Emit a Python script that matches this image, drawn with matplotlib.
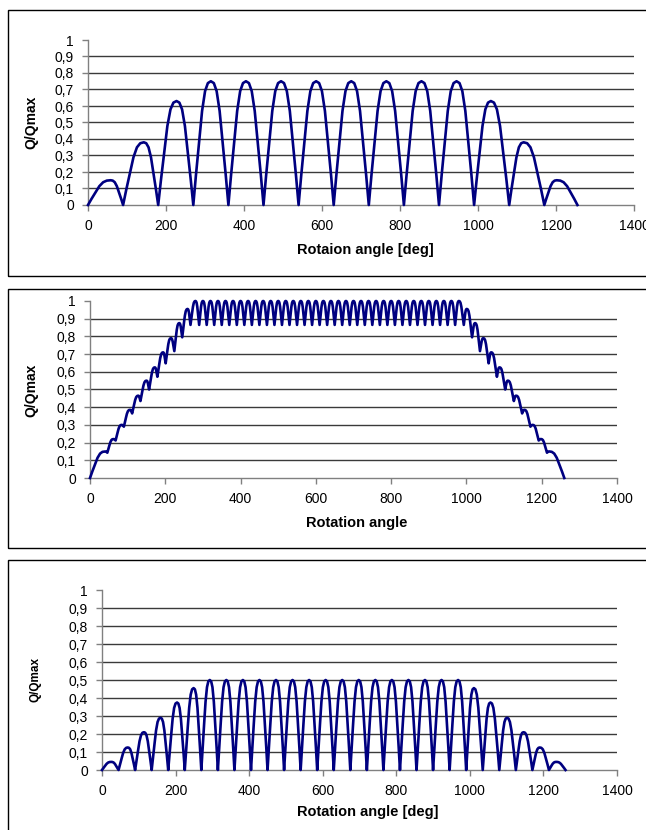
import matplotlib
matplotlib.use("Agg")
import matplotlib.pyplot as plt
from matplotlib.patches import Rectangle
from matplotlib.ticker import FuncFormatter, MultipleLocator

plt.rcParams['font.family'] = ['Liberation Sans', 'DejaVu Sans']

lobe_fx = [0, 0.15, 0.33, 0.5, 0.67, 0.83, 1.0]
lobe_fy = [0, 0.24, 0.51, 0.76, 0.92, 0.985, 1.0]

# chart 1: 90 deg lobes
c1_zero_x = [0, 90, 180, 270, 360, 450, 540, 630, 720, 810, 900, 990, 1080, 1170, 1255]
c1_zero_y = [0] * 15
c1_peak_x = [58, 143, 227, 315, 405, 495, 585, 675, 765, 855, 945, 1033, 1117, 1202]
c1_peak_y = [0.15, 0.38, 0.63, 0.75, 0.75, 0.75, 0.75, 0.75, 0.75, 0.75, 0.75, 0.63, 0.38, 0.15]

# chart 2: stepped ramp up, ripple between 0.865 and 1, stepped ramp down
c2_up_peak_x = [40, 62, 84, 106, 128, 150, 172, 194, 215, 237, 259]
c2_up_peak_y = [0.15, 0.22, 0.30, 0.385, 0.465, 0.55, 0.625, 0.71, 0.79, 0.875, 0.955]
c2_up_dip_x = [46, 68, 90, 112, 134, 157, 179, 201, 224, 245, 267]
c2_up_dip_y = [0.143, 0.212, 0.29, 0.365, 0.435, 0.50, 0.572, 0.648, 0.717, 0.795, 0.865]
c2_flat_peak_x = [280, 300, 320, 340, 360, 380, 400, 420, 440, 460, 480, 500,
                  520, 540, 560, 580, 600, 620, 640, 660, 680, 700, 720, 740,
                  760, 780, 800, 820, 840, 860, 880, 900, 920, 940, 960, 980]
c2_flat_dip_x = [290, 310, 330, 350, 370, 390, 410, 430, 450, 470, 490, 510,
                 530, 550, 570, 590, 610, 630, 650, 670, 690, 710, 730, 750,
                 770, 790, 810, 830, 850, 870, 890, 910, 930, 950, 970]
c2_flat_top = 1.0
c2_flat_bottom = 0.865
c2_down_dip_x = [993, 1015, 1036, 1059, 1081, 1103, 1126, 1148, 1170, 1192, 1214]
c2_down_dip_y = [0.865, 0.795, 0.717, 0.648, 0.572, 0.50, 0.435, 0.365, 0.29, 0.212, 0.143]
c2_down_peak_x = [1001, 1023, 1045, 1066, 1088, 1110, 1132, 1154, 1176, 1198, 1220]
c2_down_peak_y = [0.955, 0.875, 0.79, 0.71, 0.625, 0.55, 0.465, 0.385, 0.30, 0.22, 0.15]
c2_start = (0, 0.0)
c2_end = (1260, 0.0)

# chart 3: 45 deg lobes
c3_zero_x = [0, 45, 90, 135, 180, 225, 270, 315, 360, 405, 450, 495, 540, 585, 630,
             675, 720, 765, 810, 855, 900, 945, 990, 1035, 1080, 1125, 1170, 1215, 1260]
c3_zero_y = [0] * 29
c3_peak_x = [25, 70, 114, 159, 204, 249, 293, 338, 383, 428, 473, 518, 563, 608,
             653, 698, 743, 788, 833, 878, 923, 968, 1011, 1056, 1101, 1146, 1190, 1235]
c3_peak_y = [0.045, 0.125, 0.21, 0.29, 0.375, 0.455,
             0.5, 0.5, 0.5, 0.5, 0.5, 0.5, 0.5, 0.5, 0.5, 0.5, 0.5, 0.5, 0.5, 0.5, 0.5, 0.5,
             0.455, 0.375, 0.29, 0.21, 0.125, 0.045]


def interleave(lo_x, lo_y, hi_x, hi_y):
    tx, ty = [], []
    for i in range(len(hi_x)):
        tx += [lo_x[i], hi_x[i]]
        ty += [lo_y[i], hi_y[i]]
    tx.append(lo_x[-1])
    ty.append(lo_y[-1])
    return tx, ty


def trace(tx, ty):
    # join turning points with the lobe shape
    xs, ys = [tx[0]], [ty[0]]
    for i in range(len(tx) - 1):
        x0, x1, y0, y1 = tx[i], tx[i + 1], ty[i], ty[i + 1]
        if y1 >= y0:
            for f, g in zip(lobe_fx[1:], lobe_fy[1:]):
                xs.append(x0 + f * (x1 - x0))
                ys.append(y0 + g * (y1 - y0))
        else:
            for f, g in zip(lobe_fx[-2::-1], lobe_fy[-2::-1]):
                xs.append(x1 - f * (x1 - x0))
                ys.append(y1 + g * (y0 - y1))
    return xs, ys


def comma(v, pos):
    if abs(v - round(v)) < 1e-9:
        return str(int(round(v)))
    return f'{v:.1f}'.replace('.', ',')


W, H = 646, 830
fig = plt.figure(figsize=(W / 100, H / 100), dpi=100)

# panel frames (pixels: top, bottom); right side runs off the page
for top, bottom in [(10, 276), (289, 548), (560, 845)]:
    fig.patches.append(Rectangle((8 / W, 1 - bottom / H), (700 - 8) / W, (bottom - top) / H,
                                 transform=fig.transFigure, fill=False,
                                 edgecolor='black', linewidth=1.0))


def make_axes(x0, x1, y0, y1):
    ax = fig.add_axes([x0 / W, 1 - y0 / H, (x1 - x0) / W, (y0 - y1) / H])
    ax.set_xlim(0, 1400)
    ax.set_ylim(0, 1)
    ax.xaxis.set_major_locator(MultipleLocator(200))
    ax.yaxis.set_major_locator(MultipleLocator(0.1))
    ax.yaxis.set_major_formatter(FuncFormatter(comma))
    for s in ['top', 'right']:
        ax.spines[s].set_visible(False)
    for s in ['left', 'bottom']:
        ax.spines[s].set_color('#808080')
        ax.spines[s].set_linewidth(1.0)
    ax.tick_params(direction='out', length=4, width=1, color='#808080',
                   labelsize=10)
    ax.tick_params(axis='y', pad=6)
    ax.tick_params(axis='x', pad=6)
    for v in [0.1, 0.2, 0.3, 0.4, 0.5, 0.6, 0.7, 0.8, 0.9]:
        ax.axhline(v, color='#3a3a3a', linewidth=1.0, zorder=1)
    ax.set_facecolor('none')
    return ax


line_kw = dict(color='#000080', linewidth=1.9, clip_on=False, zorder=3,
               solid_joinstyle='round')

# chart 1
ax1 = make_axes(88, 634, 205, 40)
x, y = trace(*interleave(c1_zero_x, c1_zero_y, c1_peak_x, c1_peak_y))
ax1.plot(x, y, **line_kw)
fig.text(31 / W, 1 - 122 / H, 'Q/Qmax', rotation=90, ha='center', va='center',
         fontsize=10, fontweight='bold')
fig.text(365 / W, 1 - 250 / H, 'Rotaion angle [deg]', ha='center', va='center',
         fontsize=10.5, fontweight='bold')

# chart 2
lo_x = [c2_start[0]] + c2_up_dip_x + c2_flat_dip_x + c2_down_dip_x + [c2_end[0]]
lo_y = [c2_start[1]] + c2_up_dip_y + [c2_flat_bottom] * len(c2_flat_dip_x) + c2_down_dip_y + [c2_end[1]]
hi_x = c2_up_peak_x + c2_flat_peak_x + c2_down_peak_x
hi_y = c2_up_peak_y + [c2_flat_top] * len(c2_flat_peak_x) + c2_down_peak_y
ax2 = make_axes(90, 617, 478, 301)
x, y = trace(*interleave(lo_x, lo_y, hi_x, hi_y))
ax2.plot(x, y, **line_kw)
fig.text(31 / W, 1 - 390 / H, 'Q/Qmax', rotation=90, ha='center', va='center',
         fontsize=10, fontweight='bold')
fig.text(357 / W, 1 - 523 / H, 'Rotation angle', ha='center', va='center',
         fontsize=10.5, fontweight='bold')

# chart 3
ax3 = make_axes(102, 617, 770, 590)
x, y = trace(*interleave(c3_zero_x, c3_zero_y, c3_peak_x, c3_peak_y))
ax3.plot(x, y, **line_kw)
fig.text(35 / W, 1 - 680 / H, 'Q/Qmax', rotation=90, ha='center', va='center',
         fontsize=8.5, fontweight='bold')
fig.text(368 / W, 1 - 812 / H, 'Rotation angle [deg]', ha='center', va='center',
         fontsize=10.5, fontweight='bold')

fig.savefig('out.png', dpi=100)
